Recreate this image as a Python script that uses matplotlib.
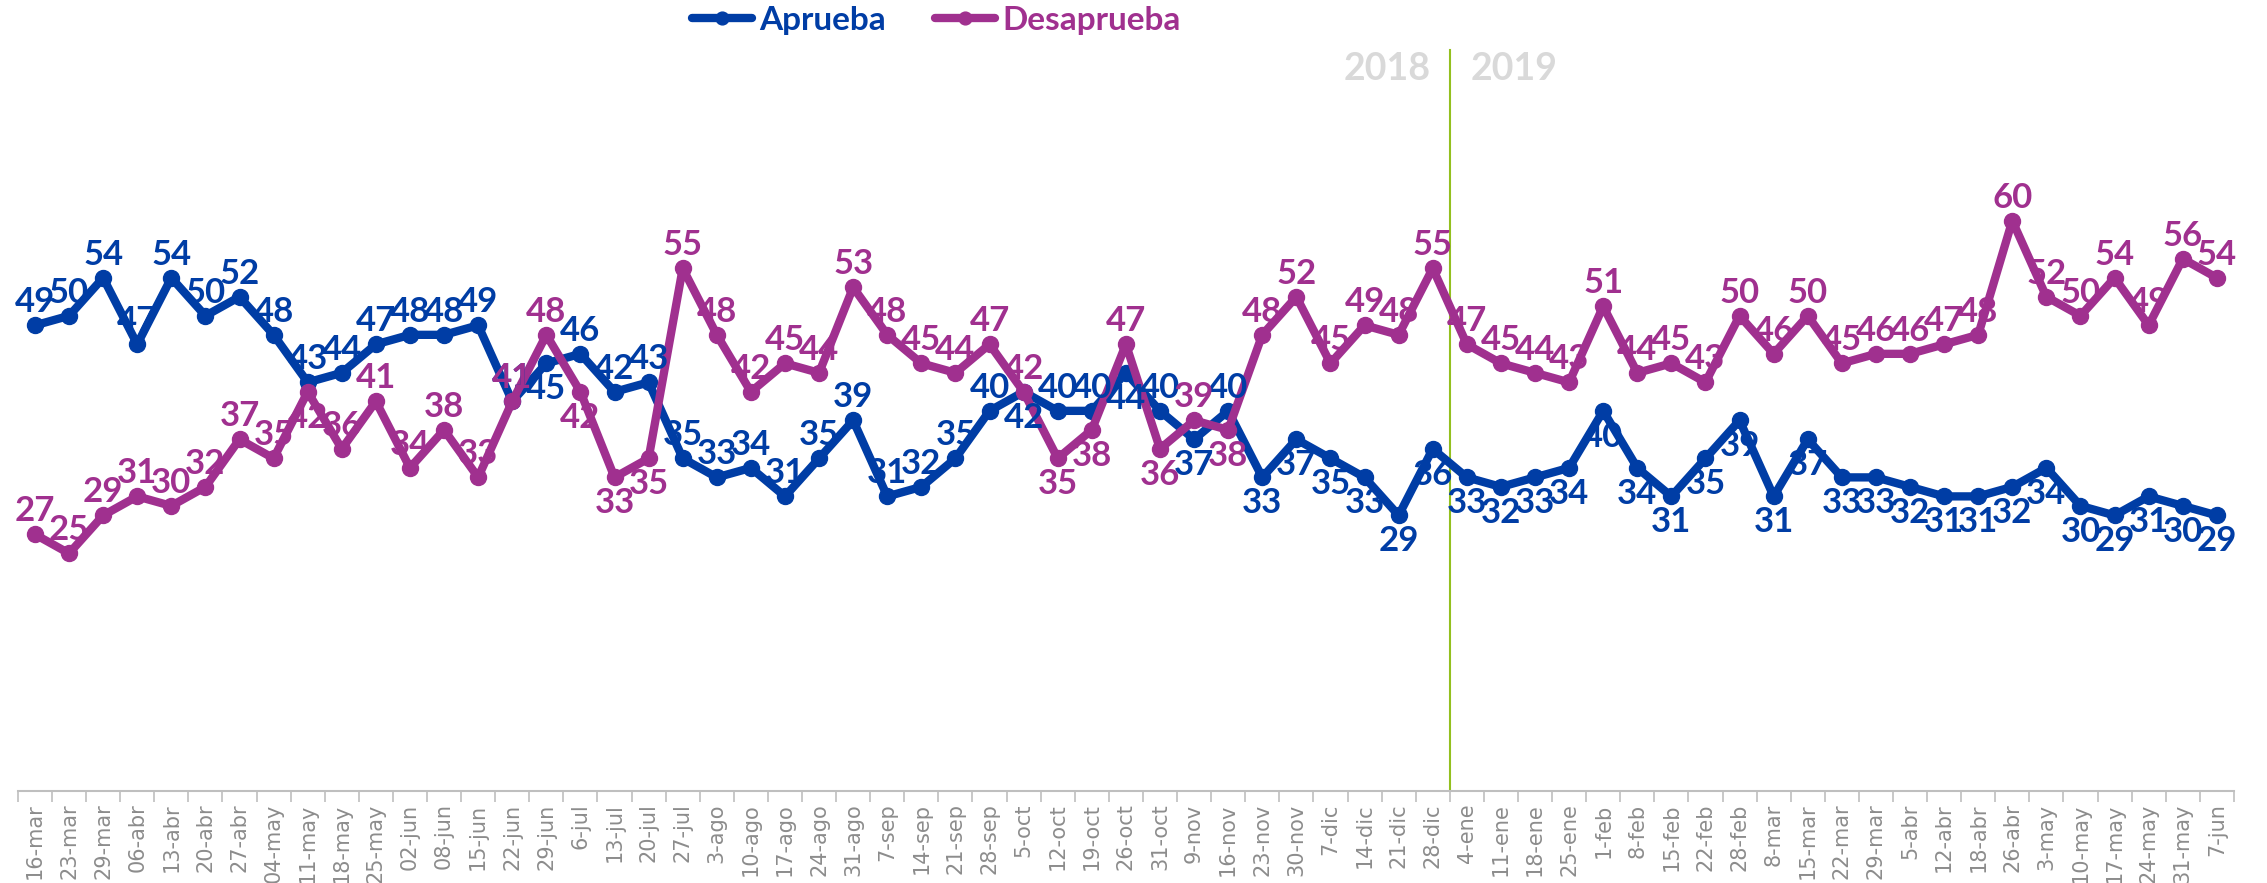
import matplotlib.pyplot as plt
import numpy as np

fechas = ['16-mar', '23-mar', '29-mar', '06-abr', '13-abr', '20-abr', '27-abr', '04-may',
          '11-may', '18-may', '25-may', '02-jun', '08-jun', '15-jun', '22-jun', '29-jun',
          '6-jul', '13-jul', '20-jul', '27-jul', '3-ago', '10-ago', '17-ago', '24-ago',
          '31-ago', '7-sep', '14-sep', '21-sep', '28-sep', '5-oct', '12-oct', '19-oct',
          '26-oct', '31-oct', '9-nov', '16-nov', '23-nov', '30-nov', '7-dic', '14-dic',
          '21-dic', '28-dic', '4-ene', '11-ene', '18-ene', '25-ene', '1-feb', '8-feb',
          '15-feb', '22-feb', '28-feb', '8-mar', '15-mar', '22-mar', '29-mar', '5-abr',
          '12-abr', '18-abr', '26-abr', '3-may', '10-may', '17-may', '24-may', '31-may',
          '7-jun']

aprueba = [49, 50, 54, 47, 54, 50, 52, 48, 43, 44,
           47, 48, 48, 49, 41, 45, 46, 42, 43, 35,
           33, 34, 31, 35, 39, 31, 32, 35, 40, 42,
           40, 40, 44, 40, 37, 40, 33, 37, 35, 33,
           29, 36, 33, 32, 33, 34, 40, 34, 31, 35,
           39, 31, 37, 33, 33, 32, 31, 31, 32, 34,
           30, 29, 31, 30, 29]

desaprueba = [27, 25, 29, 31, 30, 32, 37, 35, 42, 36,
              41, 34, 38, 33, 41, 48, 42, 33, 35, 55,
              48, 42, 45, 44, 53, 48, 45, 44, 47, 42,
              35, 38, 47, 36, 39, 38, 48, 52, 45, 49,
              48, 55, 47, 45, 44, 43, 51, 44, 45, 43,
              50, 46, 50, 45, 46, 46, 47, 48, 60, 52,
              50, 54, 49, 56, 54]

anios = ['2018', '2019']

AZUL = '#003DA5'
MAGENTA = '#A0308F'
GRIS = '#8c8c8c'
VERDE = '#93C01F'

# donde van las etiquetas debajo del punto
azul_abajo = {15, 29, 32, 34} | set(range(36, len(fechas)))
magenta_abajo = {8, 16, 17, 18, 30, 31, 33, 35}

LABEL_FONT = ['Lato', 'DejaVu Sans']

fig = plt.figure(figsize=(22.67, 8.83), dpi=100)
ax = fig.add_axes([0.0079, 0.1042, 0.9775, 0.861])

x = np.arange(len(fechas))
ax.plot(x, aprueba, color=AZUL, lw=6, marker='o', ms=11.5,
        solid_capstyle='round', label='Aprueba', zorder=3)
ax.plot(x, desaprueba, color=MAGENTA, lw=6, marker='o', ms=11.5,
        solid_capstyle='round', label='Desaprueba', zorder=4)


def etiquetas(valores, color, abajo, z):
    for i, v in enumerate(valores):
        if i in abajo:
            off, va = -7, 'top'
        else:
            off, va = 5, 'bottom'
        ax.annotate(str(v), (i, v), xytext=(0, off), textcoords='offset points',
                    ha='center', va=va, color=color, fontsize=25,
                    fontweight='bold', family=LABEL_FONT, zorder=z)


etiquetas(aprueba, AZUL, azul_abajo, 5)
etiquetas(desaprueba, MAGENTA, magenta_abajo, 6)

# separacion de anios
corte = 41.5
ax.plot([corte, corte], [0, 78], color=VERDE, lw=1.5, zorder=2)
ax.text(39.66, 76, anios[0], ha='center', va='center', fontsize=27,
        fontweight='bold', color='#d9d9d9', family=LABEL_FONT)
ax.text(43.4, 76, anios[1], ha='center', va='center', fontsize=27,
        fontweight='bold', color='#d9d9d9', family=LABEL_FONT)

ax.set_xlim(-0.5, len(fechas) - 0.5)
ax.set_ylim(0, 80)
ax.set_xticks(x)
ax.set_xticklabels(fechas, rotation=90, fontsize=15, color=GRIS)
ax.set_xticks(np.arange(-0.5, len(fechas)), minor=True)
ax.tick_params(axis='x', which='major', length=0, pad=9)
ax.tick_params(axis='x', which='minor', length=8, color='#bfbfbf', width=1.2)
ax.set_yticks([])
for s in ['top', 'left', 'right']:
    ax.spines[s].set_visible(False)
ax.spines['bottom'].set_color('#bfbfbf')
ax.spines['bottom'].set_linewidth(1.5)

leg = fig.legend(loc='center', bbox_to_anchor=(0.413, 0.977), ncol=2, frameon=False,
                 prop={'family': LABEL_FONT, 'weight': 'bold', 'size': 24},
                 handlelength=1.8, handletextpad=0.2, columnspacing=1.5,
                 markerscale=0.8)
for txt, col in zip(leg.get_texts(), [AZUL, MAGENTA]):
    txt.set_color(col)

fig.savefig('out.png', dpi=100)
